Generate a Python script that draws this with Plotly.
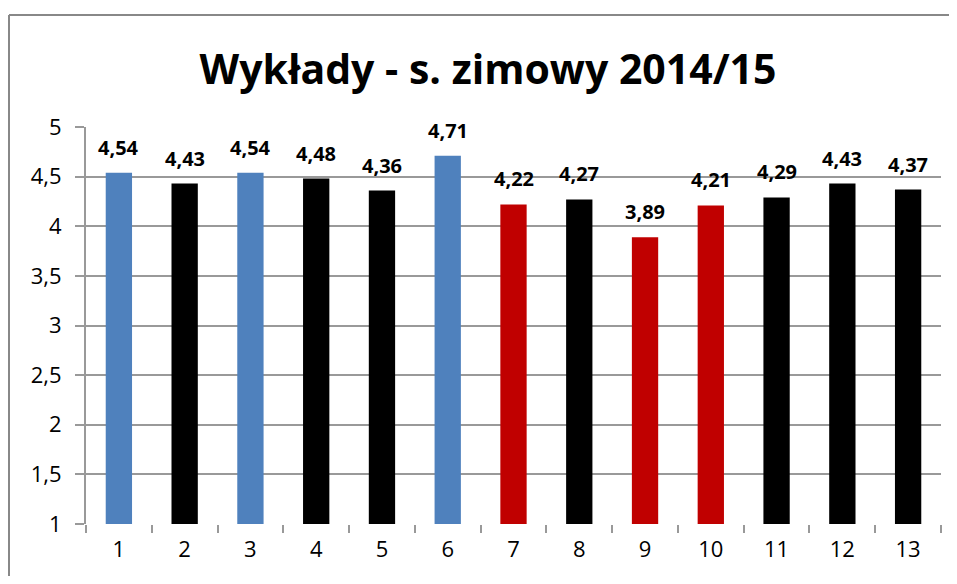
import plotly.graph_objects as go

categories = ["1", "2", "3", "4", "5", "6", "7", "8", "9", "10", "11", "12", "13"]
values = [4.54, 4.43, 4.54, 4.48, 4.36, 4.71, 4.22, 4.27, 3.89, 4.21, 4.29, 4.43, 4.37]
bar_colors = ["#4F81BD", "#000000", "#4F81BD", "#000000", "#000000", "#4F81BD",
              "#C00000", "#000000", "#C00000", "#C00000", "#000000", "#000000", "#000000"]
y_ticks = [1, 1.5, 2, 2.5, 3, 3.5, 4, 4.5, 5]
y_tick_labels = ["1", "1,5", "2", "2,5", "3", "3,5", "4", "4,5", "5"]
title = "Wykłady - s. zimowy 2014/15"

FONT = "Open Sans, sans-serif"
# page has an 8px body margin, so the figure is sized to fit the 957x584 window
W, H = 941, 568
L, R, T, B = 78, 8, 119, 52
pw, ph = W - L - R, H - T - B

fig = go.Figure(go.Bar(
    x=categories, y=values, base=0,
    marker=dict(color=bar_colors, line=dict(width=0)),
    width=0.4, hoverinfo="x+y",
))

# category axis: annotation x given as category index
for i, v in enumerate(values):
    fig.add_annotation(
        x=i, y=v, xref="x", yref="y",
        text="<b>" + f"{v:.2f}".replace(".", ",") + "</b>",
        showarrow=False, yanchor="bottom", yshift=10,
        font=dict(family=FONT, size=20, color="#000000"),
    )

bx0 = (1 - L) / pw
by1 = 1 + (T - 7) / ph
border = dict(color="#888888", width=2)

fig.update_layout(
    width=W, height=H,
    margin=dict(l=L, r=R, t=T, b=B),
    paper_bgcolor="white", plot_bgcolor="white",
    separators=",.",
    showlegend=False,
    font=dict(family=FONT, color="#000000"),
    title=dict(text="<b>" + title + "</b>", x=480 / W, xanchor="center",
               y=1 - 62 / H, yanchor="middle", yref="container",
               font=dict(family=FONT, size=41, color="#000000")),
    xaxis=dict(
        type="category", showgrid=False, showline=False,
        ticks="outside", tickson="boundaries", ticklen=8, tickcolor="#999999", tickwidth=2,
        tickfont=dict(family=FONT, size=22), ticklabelstandoff=10,
        zeroline=False,
    ),
    yaxis=dict(
        range=[1, 5], tickvals=y_ticks, ticktext=y_tick_labels,
        showgrid=True, gridcolor="#999999", gridwidth=1.5,
        showline=True, linecolor="#999999", linewidth=2,
        ticks="outside", ticklen=9, tickcolor="#999999", tickwidth=2,
        tickfont=dict(family=FONT, size=22), ticklabelstandoff=9,
        zeroline=False,
    ),
    shapes=[
        dict(type="line", xref="paper", yref="paper",
             x0=bx0, x1=1 + (W - L - pw) / pw, y0=by1, y1=by1,
             line=border, layer="below"),
        dict(type="line", xref="paper", yref="paper",
             x0=bx0, x1=bx0, y0=by1, y1=-B / ph,
             line=border, layer="below"),
    ],
)

fig.write_html("out.html")
